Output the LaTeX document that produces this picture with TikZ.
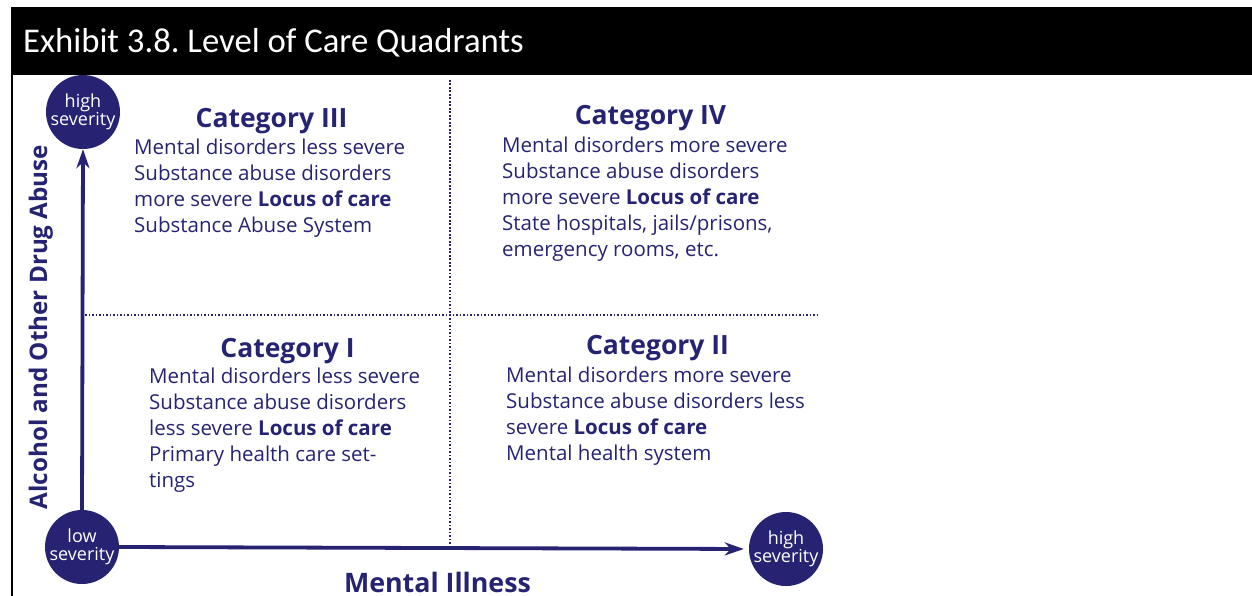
\documentclass[tikz,border=0pt]{standalone}
\usepackage{fontspec}
\setmainfont{Open Sans}
\newfontfamily\hdfont{Carlito}
\usetikzlibrary{arrows.meta}
\definecolor{navy}{HTML}{262372}
\frenchspacing
\begin{document}
\begin{tikzpicture}[x=1pt,y=-1pt,
  sev/.style={circle, fill=navy, text=white, minimum size=70pt, inner sep=0pt, align=center,
    font=\fontsize{18}{20}\selectfont},
  body/.style={anchor=base west, align=left, inner sep=0pt, text=navy,
    font=\fontsize{20.5}{26}\selectfont},
  cat/.style={anchor=base, inner sep=0pt, text=navy, font=\fontsize{26.5}{30}\selectfont\bfseries},
  axisarrow/.style={draw=navy, line width=3.8pt, -{Stealth[length=19pt,width=13pt,inset=6pt]}},
  gridline/.style={draw=navy, line width=2pt, dash pattern=on 1.8pt off 1.7pt},
  axislabel/.style={inner sep=0pt, text=navy, font=\fontsize{24.2}{26}\selectfont\bfseries}
]
\useasboundingbox (0,0) rectangle (1252,596);
% header
\fill[black] (11,7.5) rectangle (1252,75);
\node[anchor=base west, inner sep=0pt, text=white, font=\hdfont\fontsize{34.7}{40}\selectfont]
  (title) at (23,52.5) {Exhibit 3.8. Level of Care Quadrants};
\draw[black, line width=2.3pt] (12.2,75) -- (12.2,596);
% grid
\coordinate (vt) at (449.5,80);
\coordinate (vb) at (449.5,545);
\coordinate (hl) at (85,314.5);
\coordinate (hr) at (817,314.5);
\draw[gridline] (vt) -- (vb);
\draw[gridline] (hl) -- (hr);
% circles
\node[sev] (hi) at (83,112) {high\\[-2pt]severity};
\node[sev] (lo) at (82,547) {low\\[-2pt]severity};
\node[sev] (hx) at (786,549) {high\\[-2pt]severity};
% axes
\draw[axisarrow] (lo.north) -- (hi.south);
\draw[axisarrow, shorten >=5pt] (lo.east) -- (hx.west);
% axis labels
\node[axislabel, rotate=90, anchor=base] (ylab) at (47,327) {Alcohol and Other Drug Abuse};
\node[axislabel, font=\fontsize{26.8}{30}\selectfont\bfseries, anchor=base] (xlab) at (437.5,592) {Mental Illness};
% quadrants (anchor = baseline of last line)
\node[cat] (c3) at (271.5,128) {Category III};
\node[body] (b3) at (134,233) {Mental disorders less severe\\Substance abuse disorders\\more severe \textbf{Locus of care}\\Substance Abuse System};
\node[cat] (c4) at (650.5,125) {Category IV};
\node[body] (b4) at (502,256) {Mental disorders more severe\\Substance abuse disorders\\more severe \textbf{Locus of care}\\State hospitals, jails/prisons,\\emergency rooms, etc.};
\node[cat] (c1) at (287.5,357) {Category I};
\node[body] (b1) at (149,487) {Mental disorders less severe\\Substance abuse disorders\\less severe \textbf{Locus of care}\\Primary health care set-\\tings};
\node[cat] (c2) at (657.5,354) {Category II};
\node[body] (b2) at (506,460) {Mental disorders more severe\\Substance abuse disorders less\\severe \textbf{Locus of care}\\Mental health system};
\end{tikzpicture}
\end{document}
